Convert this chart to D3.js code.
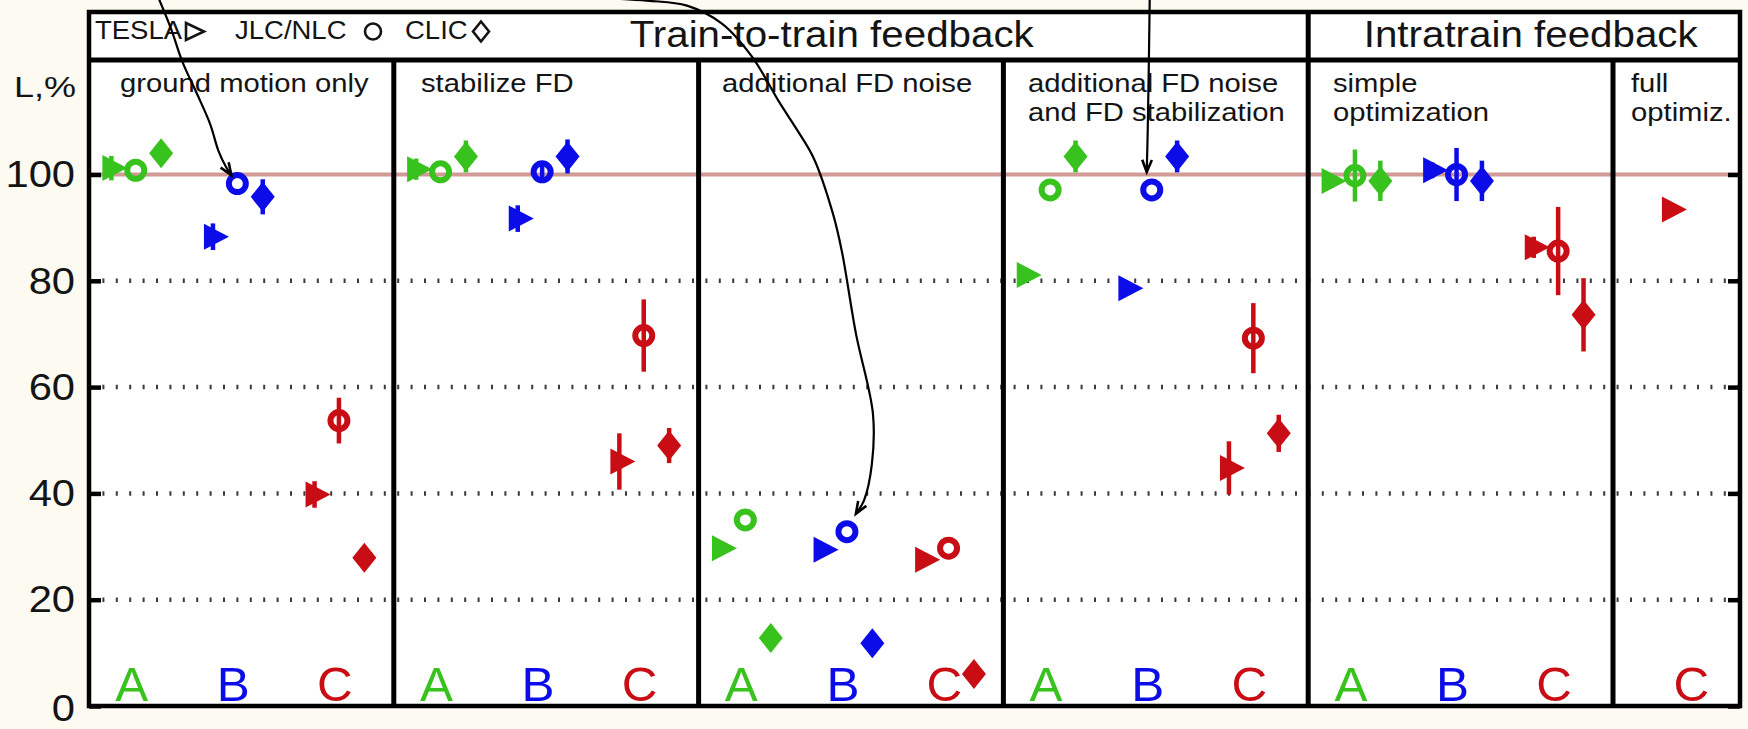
<!DOCTYPE html>
<html>
<head>
<meta charset="utf-8">
<script src="https://cdn.jsdelivr.net/npm/d3@7"></script>
<style>
  html, body { margin: 0; padding: 0; background: #fcfaf1; }
  svg { display: block; font-family: "Liberation Sans", Arial, Helvetica, sans-serif; }
</style>
</head>
<body>
<svg id="chart" width="1748" height="729"></svg>
<script>
// ---- data -----------------------------------------------------------------
const groups = ["A", "B", "C"];
const machines = ["TESLA", "JLC/NLC", "CLIC"];
const headerTitles = ["Train-to-train feedback", "Intratrain feedback"];
const panelTitles = [
  ["ground motion only"],
  ["stabilize FD"],
  ["additional FD noise"],
  ["additional FD noise", "and FD stabilization"],
  ["simple", "optimization"],
  ["full", "optimiz."]
];
const yTicks = [0, 20, 40, 60, 80, 100];
const gridValues = [20, 40, 60, 80];
const nominal = 100;

// luminosity (% of nominal) per panel, per group A / B / C
const teslaLum = [[101.2, 88.3, 39.8], [101.0, 91.7, 46.0], [29.7, 29.4, 27.5], [81.1, 78.6, 44.8], [98.8, 100.8, 86.3], [null, null, 93.4]];
const teslaErr = [[2.3, 2.5, 2.5], [2.0, 2.5, 5.3], [0, 0, 0], [0, 0, 5.0], [0, 1.5, 2.0], [0, 0, 0]];
const jlcLum   = [[100.8, 98.3, 53.7], [100.5, 100.5, 69.7], [35.0, 32.8, 29.7], [97.1, 97.1, 69.2], [99.8, 100.0, 85.6], [null, null, null]];
const jlcErr   = [[0, 0, 4.3], [0, 1.5, 6.8], [0, 0, 0], [0, 0, 6.6], [4.9, 5.0, 8.3], [0, 0, 0]];
const clicLum  = [[104.0, 95.8, 27.9], [103.4, 103.4, 49.0], [12.8, 11.8, 6.0], [103.4, 103.4, 51.3], [98.8, 98.8, 73.6], [null, null, null]];
const clicErr  = [[0, 3.3, 0], [3.0, 3.2, 3.3], [0, 0, 0], [3.0, 3.0, 3.5], [3.8, 3.8, 6.9], [0, 0, 0]];

const seriesLum = [teslaLum, jlcLum, clicLum];
const seriesErr = [teslaErr, jlcErr, clicErr];

// ---- layout ---------------------------------------------------------------
const panelEdges = [0, 3, 6, 9, 12, 15, 16.25];         // in group-slot units
const groupSlots = [[0.5, 1.5, 2.5], [0.5, 1.5, 2.5], [0.5, 1.5, 2.5],
                    [0.5, 1.5, 2.5], [0.5, 1.5, 2.5], [null, null, 0.85]];
const machineOffset = [-0.28, -0.04, 0.21];
const headerSplit = 12;                                    // Train-to-train | Intratrain
const headerCenters = [7.31, 14.19];
const colors = { A: "#38c21e", B: "#0c0ce8", C: "#c90d14" };

const frame = { left: 89, right: 1740, top: 12, header: 60, bottom: 706 };

const x = d3.scaleLinear().domain([0, 16.25]).range([frame.left, frame.right]);
const y = d3.scaleLinear().domain([0, 100]).range([706, 174.5]);

const svg = d3.select("#chart");

function txt(sel, tx, ty, s, size, sx, anchor, fill) {
  return sel.append("text")
    .attr("transform", `translate(${tx},${ty}) scale(${sx},1)`)
    .attr("text-anchor", anchor || "start")
    .attr("font-size", size)
    .attr("fill", fill || "#141414")
    .text(s);
}

// plotting area
svg.append("rect")
  .attr("x", frame.left).attr("y", frame.top)
  .attr("width", frame.right - frame.left).attr("height", frame.bottom - frame.top)
  .attr("fill", "#ffffff");

// dotted grid
svg.append("g").selectAll("line").data(gridValues).join("line")
  .attr("x1", frame.left).attr("x2", frame.right)
  .attr("y1", d => y(d)).attr("y2", d => y(d))
  .attr("stroke", "#3a3a3a").attr("stroke-width", 4.5)
  .attr("stroke-dasharray", "2 11.4");

// nominal luminosity line
svg.append("line")
  .attr("x1", frame.left).attr("x2", frame.right)
  .attr("y1", y(nominal)).attr("y2", y(nominal))
  .attr("stroke", "#d19a94").attr("stroke-width", 4);

// axes
const yLeft = svg.append("g")
  .attr("transform", `translate(${frame.left},0)`)
  .call(d3.axisLeft(y).tickValues(yTicks).tickSizeInner(-12).tickSizeOuter(0).tickPadding(12));
yLeft.select(".domain").remove();
yLeft.selectAll(".tick line").attr("stroke", "#000").attr("stroke-width", 4.5);
yLeft.selectAll(".tick text")
  .attr("font-size", 36).attr("fill", "#141414")
  .attr("font-family", "'Liberation Sans', Arial, sans-serif")
  .attr("transform", "scale(1.16,1)")
  .attr("dy", d => d === 0 ? "0.4em" : "0.34em");

const yRight = svg.append("g")
  .attr("transform", `translate(${frame.right},0)`)
  .call(d3.axisRight(y).tickValues(yTicks).tickSizeInner(-12).tickSizeOuter(0).tickFormat(""));
yRight.select(".domain").remove();
yRight.selectAll(".tick line").attr("stroke", "#000").attr("stroke-width", 4.5);

// panel dividers and header rules
const rules = svg.append("g").attr("stroke", "#000").attr("stroke-width", 5);
rules.selectAll("line.div").data(panelEdges.slice(1, -1)).join("line")
  .attr("class", "div")
  .attr("x1", d => x(d)).attr("x2", d => x(d))
  .attr("y1", frame.header).attr("y2", frame.bottom);
rules.append("line")
  .attr("x1", x(headerSplit)).attr("x2", x(headerSplit))
  .attr("y1", frame.top).attr("y2", frame.header);
rules.append("line")
  .attr("x1", frame.left).attr("x2", frame.right)
  .attr("y1", frame.header).attr("y2", frame.header);

svg.append("rect")
  .attr("x", frame.left).attr("y", frame.top)
  .attr("width", frame.right - frame.left).attr("height", frame.bottom - frame.top)
  .attr("fill", "none").attr("stroke", "#000").attr("stroke-width", 4.5);

// header titles
headerTitles.forEach((s, i) => txt(svg, x(headerCenters[i]), 47, s, 37, 1.09, "middle"));

// machine legend in the header
const legend = svg.append("g");
const legendX = [95, 235, 405];
machines.forEach((m, i) => txt(legend, legendX[i], 39, m, 25, 1.1, "start"));
legend.append("path").attr("d", "M186,23 L204,31.5 L186,40 Z")
  .attr("fill", "none").attr("stroke", "#141414").attr("stroke-width", 2.6);
legend.append("circle").attr("cx", 373).attr("cy", 31.5).attr("r", 8)
  .attr("fill", "none").attr("stroke", "#141414").attr("stroke-width", 2.6);
legend.append("path").attr("d", "M481,21.5 L489,31.5 L481,41.5 L473,31.5 Z")
  .attr("fill", "none").attr("stroke", "#141414").attr("stroke-width", 2.6);

// panel titles
const titleX = [120, 421, 722, 1028, 1333, 1631];
panelTitles.forEach((lines, p) => {
  lines.forEach((s, k) => txt(svg, titleX[p], 92 + k * 29, s, 25, 1.17, "start"));
});

// y axis caption
txt(svg, 14, 97, "L,%", 30, 1.2, "start");

// group letters
const letters = svg.append("g");
groupSlots.forEach((slots, p) => {
  slots.forEach((s, g) => {
    if (s === null) return;
    txt(letters, x(panelEdges[p] + s - 0.08), 701, groups[g], 48, 1.03, "middle", colors[groups[g]]);
  });
});

// points
const points = [];
seriesLum.forEach((lum, m) => {
  lum.forEach((row, p) => {
    row.forEach((v, g) => {
      if (v === null) return;
      points.push({
        machine: m, panel: p, group: groups[g], value: v, err: seriesErr[m][p][g],
        slot: panelEdges[p] + groupSlots[p][g] + machineOffset[m]
      });
    });
  });
});

const marks = svg.append("g");
marks.selectAll("line.err").data(points.filter(d => d.err > 0)).join("line")
  .attr("class", "err")
  .attr("x1", d => x(d.slot)).attr("x2", d => x(d.slot))
  .attr("y1", d => y(d.value - d.err)).attr("y2", d => y(d.value + d.err))
  .attr("stroke", d => colors[d.group]).attr("stroke-width", 4.5);

const triPath = "M-9,-13 L16,0 L-9,13 Z";
const diaPath = "M0,-15 L12,0 L0,15 L-12,0 Z";
marks.selectAll("g.pt").data(points).join("g")
  .attr("class", "pt")
  .attr("transform", d => `translate(${x(d.slot)},${y(d.value)})`)
  .each(function (d) {
    const g = d3.select(this);
    const c = colors[d.group];
    if (d.machine === 0) g.append("path").attr("d", triPath).attr("fill", c);
    else if (d.machine === 1) g.append("circle").attr("r", 8.5).attr("fill", "none").attr("stroke", c).attr("stroke-width", 6);
    else g.append("path").attr("d", diaPath).attr("fill", c);
  });

// hand-drawn pointers to the JLC/NLC results
function jlcPoint(p, g) {
  const v = jlcLum[p][g];
  return [x(panelEdges[p] + groupSlots[p][g] + machineOffset[1]), y(v)];
}
const pointers = [
  { target: jlcPoint(0, 1), route: [[-79, -186], [-66, -154], [-55, -122], [-40, -89], [-27, -59], [-19, -33], [-11, -16], [-6, -8.5]] },
  { target: jlcPoint(2, 1), route: [[-300, -536], [-200, -531], [-160, -526], [-125, -508], [-95, -475], [-68, -430], [-50, -402], [-33, -373], [-14, -318], [-5, -280], [9, -198], [26, -118], [25, -68], [17, -31], [9, -18]] },
  { target: jlcPoint(3, 1), route: [[-2, -192], [-3, -120], [-4, -60], [-5, -18]] }
];
const curve = d3.line().curve(d3.curveCatmullRom.alpha(0.5));
const arrows = svg.append("g").attr("fill", "none").attr("stroke", "#000").attr("stroke-width", 2.2);
pointers.forEach(a => {
  const pts = a.route.map(([dx, dy]) => [a.target[0] + dx, a.target[1] + dy]);
  arrows.append("path").attr("d", curve(pts));
  const [x1, y1] = pts[pts.length - 2], [x2, y2] = pts[pts.length - 1];
  const ang = Math.atan2(y2 - y1, x2 - x1);
  const L = 13, spread = 0.38;
  const h1 = [x2 - L * Math.cos(ang - spread), y2 - L * Math.sin(ang - spread)];
  const h2 = [x2 - L * Math.cos(ang + spread), y2 - L * Math.sin(ang + spread)];
  arrows.append("path")
    .attr("d", `M${h1[0]},${h1[1]} L${x2},${y2} L${h2[0]},${h2[1]}`)
    .attr("stroke-width", 2.6).attr("stroke-linejoin", "miter");
});
</script>
</body>
</html>
